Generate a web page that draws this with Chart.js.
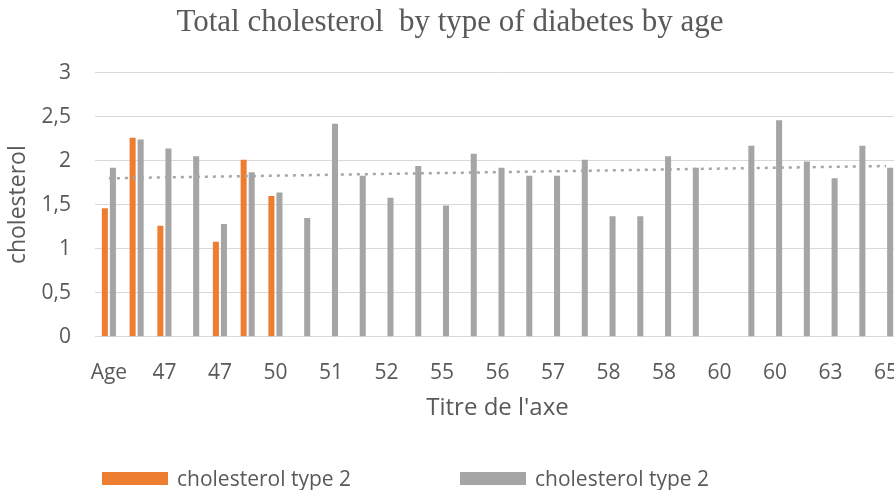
<!DOCTYPE html>
<html>
<head>
<meta charset="utf-8">
<script src="https://cdn.jsdelivr.net/npm/chart.js@4"></script>
<style>
  html, body { margin: 0; padding: 0; overflow: hidden; background: #fff; width: 894px; height: 490px; }
  #wrap { position: absolute; left: 0; top: 0; width: 904px; height: 490px; }
  #legend { position: absolute; left: 0; top: 0; width: 894px; height: 490px; pointer-events: none;
            font-family: 'Open Sans', sans-serif; font-size: 21px; color: #595959; }
  .item { position: absolute; top: 465px; height: 26px; line-height: 26px; display: flex; align-items: center; white-space: pre; }
  .swatch { display: inline-block; width: 66px; height: 13px; margin-right: 9px; }
</style>
</head>
<body>
<div id="wrap"><canvas id="c" width="904" height="490"></canvas></div>
<div id="legend"></div>
<script>
// Ages on the category axis (Excel shows every second one)
const ages = ['Age', '45', '47', '47', '47', '49', '50', '51', '51', '52', '52', '53', '55', '56', '56',
              '57', '57', '58', '58', '58', '58', '59', '60', '60', '60', '62', '63', '64', '65'];

// Total cholesterol, first series (orange)
const cholOrange = [1.46, 2.26, 1.26, null, 1.08, 2.01, 1.60, null, null, null, null, null, null, null, null,
                    null, null, null, null, null, null, null, null, null, null, null, null, null, null];

// Total cholesterol, second series (grey)
const cholGrey = [1.92, 2.24, 2.14, 2.05, 1.28, 1.87, 1.64, 1.35, 2.42, 1.83, 1.58, 1.94, 1.49, 2.08, 1.92,
                  1.83, 1.83, 2.01, 1.37, 1.37, 2.05, 1.92, null, 2.17, 2.46, 1.99, 1.80, 2.17, 1.92];

// Linear trend of the grey series: value at the first and at the last age
const trendStart = 1.80;
const trendEnd = 1.94;

const seriesLabels = ['cholesterol type 2', 'cholesterol type 2'];
const yTicks = [0, 0.5, 1, 1.5, 2, 2.5, 3];

const ORANGE = '#ed7d31';
const GREY = '#a5a5a5';
const TEXT = '#595959';
const GRID = '#d9d9d9';

const trendData = ages.map((_, i) => i === 0 ? trendStart : (i === ages.length - 1 ? trendEnd : null));

Chart.defaults.font.family = "'Open Sans', sans-serif";
Chart.defaults.color = TEXT;

const chart = new Chart(document.getElementById('c'), {
  type: 'bar',
  data: {
    labels: ages,
    datasets: [
      { label: seriesLabels[0], data: cholOrange, backgroundColor: ORANGE, order: 2,
        categoryPercentage: 0.58, barPercentage: 0.75 },
      { label: seriesLabels[1], data: cholGrey, backgroundColor: GREY, order: 2,
        categoryPercentage: 0.58, barPercentage: 0.75 },
      { type: 'line', label: 'trend', data: trendData, spanGaps: true, order: 0,
        borderColor: '#a6a6a6', borderWidth: 2.5, borderDash: [3, 5], pointRadius: 0, fill: false, tension: 0 }
    ]
  },
  options: {
    responsive: false,
    animation: false,
    devicePixelRatio: 1,
    layout: { padding: { left: 0, right: 4, top: 0, bottom: 0 } },
    plugins: {
      legend: { display: false },
      tooltip: { enabled: false },
      title: {
        display: true,
        text: 'Total cholesterol  by type of diabetes by age',
        color: TEXT,
        font: { family: "'Liberation Serif', 'Times New Roman', serif", size: 31, weight: 'normal', lineHeight: 1.2 },
        padding: { top: 4.5, bottom: 31 }
      }
    },
    scales: {
      x: {
        offset: true,
        grid: { display: false },
        border: { display: false },
        ticks: {
          autoSkip: false,
          maxRotation: 0,
          padding: 16,
          font: { size: 21 },
          color: TEXT,
          callback: (v, i) => (i % 2 === 0 ? ages[i] : '')
        },
        title: {
          display: true,
          text: "Titre de l'axe",
          color: TEXT,
          font: { size: 24 },
          padding: { top: 0, bottom: 67 }
        },
        afterFit: (s) => { s.height = 490 - 336.7; s.paddingLeft = 0; s.paddingRight = 0; }
      },
      y: {
        min: 0,
        max: 3,
        afterBuildTicks: (s) => { s.ticks = yTicks.map(v => ({ value: v })); },
        grid: { color: GRID, lineWidth: 1, drawTicks: false },
        border: { display: false },
        ticks: {
          padding: 24,
          font: { size: 21 },
          color: TEXT,
          callback: (v) => String(v).replace('.', ',')
        },
        title: {
          display: true,
          text: 'cholesterol',
          color: TEXT,
          font: { size: 23 },
          padding: { top: 5, bottom: 0 }
        },
        afterFit: (s) => { s.width = 95; }
      }
    }
  }
});

// Legend built from the bar datasets
const legend = document.getElementById('legend');
const legendLeft = [102, 460];
chart.data.datasets.slice(0, 2).forEach((ds, i) => {
  const item = document.createElement('div');
  item.className = 'item';
  item.style.left = legendLeft[i] + 'px';
  const sw = document.createElement('span');
  sw.className = 'swatch';
  sw.style.background = ds.backgroundColor;
  const tx = document.createElement('span');
  tx.textContent = ds.label;
  item.appendChild(sw);
  item.appendChild(tx);
  legend.appendChild(item);
});
</script>
</body>
</html>
